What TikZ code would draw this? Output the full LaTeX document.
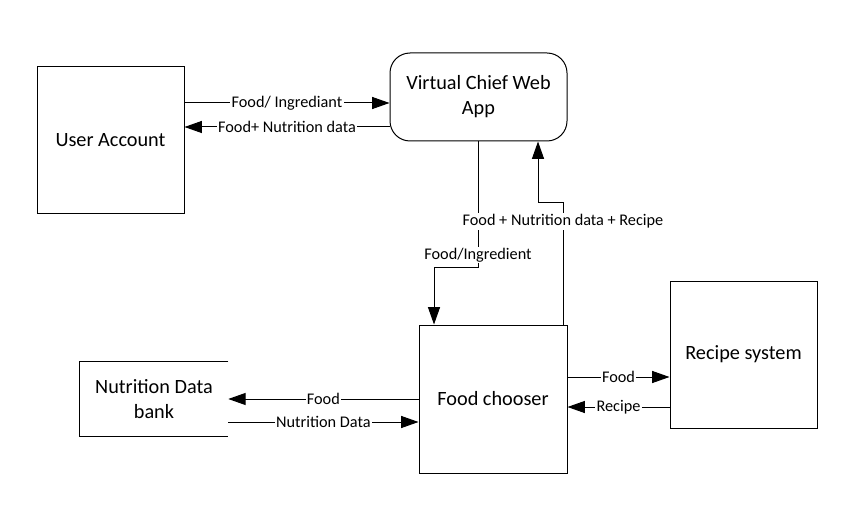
\documentclass[tikz,border=0pt]{standalone}
\usepackage{fontspec}
\setmainfont{Carlito}
\usetikzlibrary{arrows.meta}
\tikzset{
  box/.style={draw, line width=.75pt, font=\fontsize{15.2}{18.75}\selectfont, align=center, inner sep=0pt},
  flow/.style={line width=.75pt, -{Triangle[length=13pt,width=9pt]}},
  lbl/.style={fill=white, inner sep=1pt, font=\fontsize{12.2}{14}\selectfont}
}
\begin{document}
\begin{tikzpicture}[x=.75pt, y=-.75pt]
  \useasboundingbox (0,0) rectangle (852,527);
  \node[box, minimum width=110.25pt, minimum height=110.25pt] (user) at (110.5,140.5) {User Account};
  \node[box, rounded corners=15pt, minimum width=132.75pt, minimum height=66pt] (app) at (478.5,97) {Virtual Chief Web\\App};
  \node[box, minimum width=111pt, minimum height=111pt] (chooser) at (493,399) {Food chooser};
  \node[box, minimum width=110.25pt, minimum height=110.25pt] (recipe) at (743.5,354.5) {Recipe system};
  \node[font=\fontsize{15.2}{18.75}\selectfont, align=center, minimum width=111pt, minimum height=55.5pt, inner sep=0pt] (bank) at (154,399) {Nutrition Data\\bank};
  \draw[line width=.75pt] (bank.north east) -- (bank.north west) -- (bank.south west) -- (bank.south east);
  \draw[flow] (user.east |- 0,103) -- node[lbl] {Food/ Ingrediant} (app.west |- 0,103);
  \draw[flow] (app.west |- 0,127) -- node[lbl] {Food+ Nutrition data} (user.east |- 0,127);
  \draw[flow] (chooser.west |- 0,399) -- node[lbl] {Food} (bank.east |- 0,399);
  \draw[flow] (bank.east |- 0,422) -- node[lbl] {Nutrition Data} (chooser.west |- 0,422);
  \draw[flow] (chooser.east |- 0,377) -- node[lbl] {Food} (recipe.west |- 0,377);
  \draw[flow] (recipe.west |- 0,407) -- node[lbl] {Recipe} (chooser.east |- 0,407);
  \draw[flow] (app.south -| 478,0) -- node[lbl, pos=.905] {Food/Ingredient} (478,267) -- (434,267) -- (chooser.north -| 434,0);
  \draw[flow] (chooser.north -| 563,0) -- node[lbl, pos=.85] {Food + Nutrition data + Recipe} (563,203) -- (538,203) -- (app.south -| 538,0);
\end{tikzpicture}
\end{document}
